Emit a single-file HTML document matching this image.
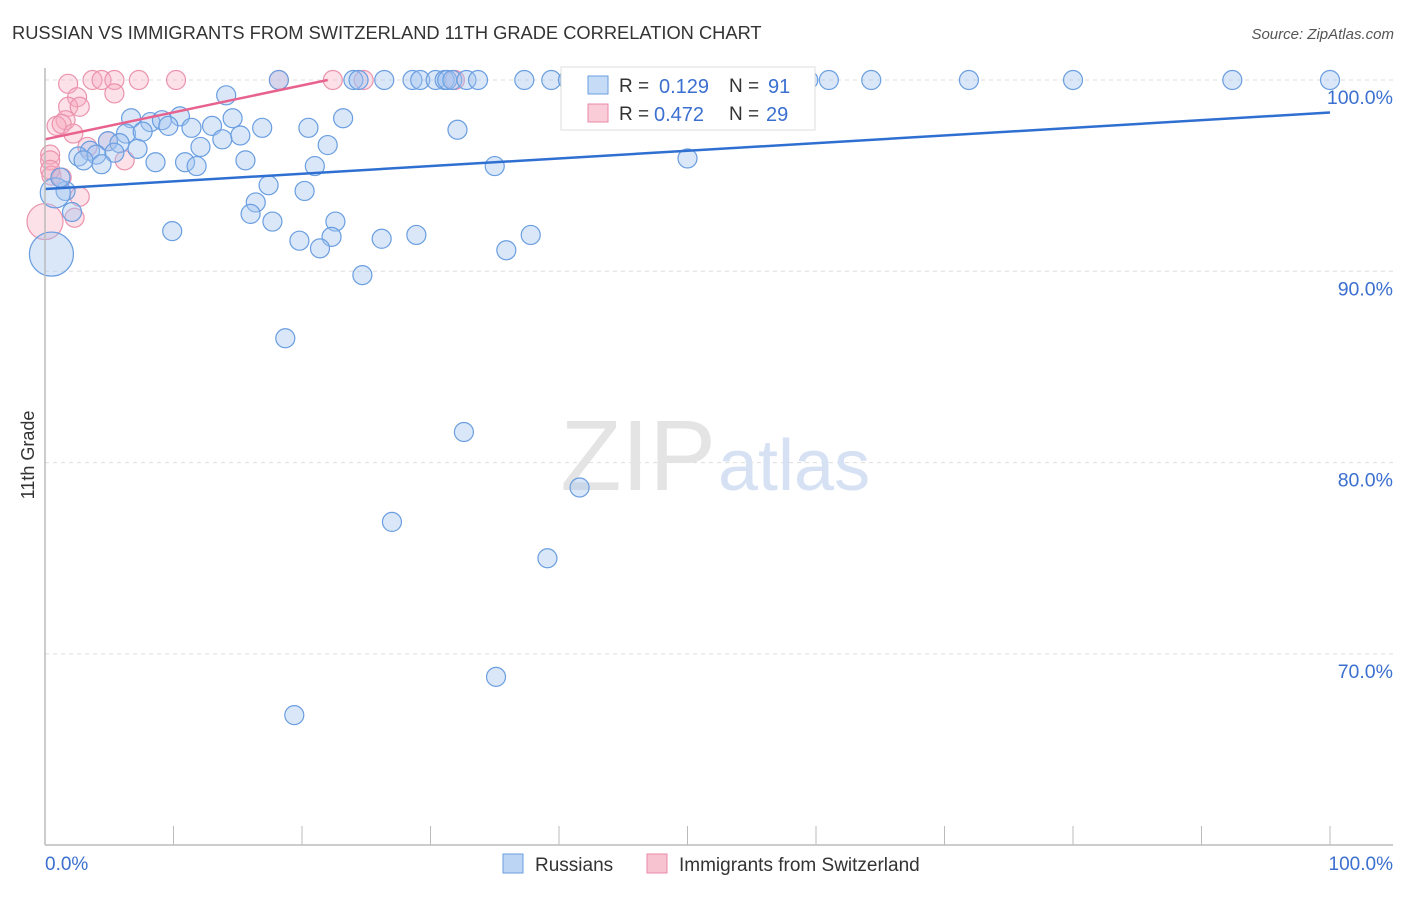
<!DOCTYPE html>
<html><head><meta charset="utf-8"><style>
body{margin:0;background:#fff;font-family:"Liberation Sans",sans-serif}
svg text{font-family:"Liberation Sans",sans-serif}
</style></head><body>
<svg width="1406" height="892" viewBox="0 0 1406 892">
<text x="12" y="39" font-size="18.3" fill="#333">RUSSIAN VS IMMIGRANTS FROM SWITZERLAND 11TH GRADE CORRELATION CHART</text>
<text x="1394" y="39" font-size="15" fill="#555" font-style="italic" text-anchor="end">Source: ZipAtlas.com</text>
<g id="grid"></g>
<text x="716" y="490" font-size="100" fill="#e4e4e4" text-anchor="end" font-family="Liberation Serif">ZIP</text>
<text x="718" y="490" font-size="72" fill="#d6e2f4">atlas</text>
<g id="pts"></g>
<g id="axes"></g>
<text transform="translate(34,455) rotate(-90)" font-size="18" fill="#333" text-anchor="middle">11th Grade</text>
<g>
<rect x="561" y="67" width="254" height="63" fill="#fff" stroke="#ddd"/>
<rect x="588" y="76" width="20" height="18" fill="rgba(160,195,240,0.6)" stroke="#6a9ee0"/>
<text x="619" y="92" font-size="19" fill="#333">R =</text>
<text x="659" y="93" font-size="20" fill="#3b6fd0">0.129</text>
<text x="729" y="92" font-size="19" fill="#333">N =</text>
<text x="768" y="93" font-size="20" fill="#3b6fd0">91</text>
<rect x="588" y="104" width="20" height="18" fill="rgba(245,170,190,0.6)" stroke="#e98aa8"/>
<text x="619" y="120" font-size="19" fill="#333">R =</text>
<text x="654" y="121" font-size="20" fill="#3b6fd0">0.472</text>
<text x="729" y="120" font-size="19" fill="#333">N =</text>
<text x="766" y="121" font-size="20" fill="#3b6fd0">29</text>
</g>
<g>
<rect x="503" y="854" width="20" height="19" fill="rgba(160,195,240,0.7)" stroke="#6a9ee0"/>
<text x="535" y="871" font-size="19" fill="#333">Russians</text>
<rect x="647" y="854" width="20" height="19" fill="rgba(245,170,190,0.7)" stroke="#e98aa8"/>
<text x="679" y="871" font-size="19" fill="#333">Immigrants from Switzerland</text>
</g>
</svg>
<script>
const yTicks=[100,90,80,70];
const yTickLabels=["100.0%","90.0%","80.0%","70.0%"];
const xTicks=[0,10,20,30,40,50,60,70,80,90,100];
const blueX=[18.2,24.0,24.4,26.4,28.6,29.2,30.4,31.1,31.3,31.7,32.8,33.7,37.3,39.4,40.7,47.2,52.5,54.5,59.4,61.0,64.3,71.9,80.0,92.4,100,
14.1,10.5,6.7,14.6,23.2,8.2,9.1,9.6,11.4,13.0,16.9,20.5,32.1,6.3,7.6,15.2,4.9,13.8,5.8,22.0,7.2,12.1,3.5,2.6,4.0,5.4,3.0,4.4,8.6,10.9,15.6,11.8,21.0,35.0,50.0,17.4,1.6,20.2,0.8,1.2,16.4,16.0,2.1,22.6,17.7,9.9,22.3,19.8,26.2,28.9,37.8,21.4,35.9,0.5,24.7,18.7,32.6,41.6,27.0,39.1,35.1,19.4];
const blueY=[100,100,100,100,100,100,100,100,100,100,100,100,100,100,100,100,100,100,100,100,100,100,100,100,100,
99.2,98.1,98.0,98.0,98.0,97.8,97.9,97.6,97.5,97.6,97.5,97.5,97.4,97.2,97.3,97.1,96.8,96.9,96.7,96.6,96.4,96.5,96.3,96.0,96.1,96.2,95.8,95.6,95.7,95.7,95.8,95.5,95.5,95.5,95.9,94.5,94.2,94.2,94.1,94.9,93.6,93.0,93.1,92.6,92.6,92.1,91.8,91.6,91.7,91.9,91.9,91.2,91.1,90.9,89.8,86.5,81.6,78.7,76.9,75.0,68.8,66.8];
const blueBig={63:15,78:22};
const pinkX=[1.8,3.7,4.4,5.4,7.3,10.2,18.2,22.4,24.8,31.9,2.5,5.4,1.8,2.7,1.6,0.9,1.3,2.2,3.3,4.9,0.4,0.4,6.2,0.5,1.3,2.7,2.3,0.0,0.4];
const pinkY=[99.8,100,100,100,100,100,100,100,100,100,99.1,99.3,98.6,98.6,97.9,97.6,97.7,97.2,96.5,96.8,96.1,95.8,95.8,95.0,94.9,93.9,92.8,92.6,95.3];
const pinkBig={27:18};
const blueTrend=[[0,94.3],[100,98.3]];
const pinkTrend=[[0,96.9],[22,100]];
const X=v=>45+v*12.85, Y=v=>80+(100-v)*19.13;
const NS="http://www.w3.org/2000/svg";
function mk(t,a,p){const e=document.createElementNS(NS,t);for(const k in a)e.setAttribute(k,a[k]);p.appendChild(e);return e;}
const grid=document.getElementById('grid'),axes=document.getElementById('axes'),pts=document.getElementById('pts');
yTicks.forEach((t,i)=>{
 const l=mk('line',{x1:45,x2:1393,y1:Y(t),y2:Y(t),stroke:'#ddd','stroke-dasharray':'4,4'},grid);
 
 
 const tx=mk('text',{x:1393,y:Y(t)+24,'font-size':19.5,fill:'#3b6fd0','text-anchor':'end'},axes);
 tx.textContent=yTickLabels[i];
 
 
});
const ax=mk('line',{x1:45,x2:1393,y1:845,y2:845,stroke:'#bbb','stroke-width':1.5},axes);


const ay=mk('line',{x1:45,x2:45,y1:68,y2:845,stroke:'#bbb','stroke-width':1.5},axes);


xTicks.forEach(t=>{
 const l=mk('line',{x1:X(t),x2:X(t),y1:826,y2:845,stroke:'#bbb'},axes);
 
 
});
[[0,'0.0%','start',45],[100,'100.0%','end',1393]].forEach(d=>{
 const tx=mk('text',{x:d[3],y:870,'font-size':19,fill:'#3b6fd0','text-anchor':d[2]},axes);
 tx.textContent=d[1];
 
 
});
pinkX.forEach((x,i)=>{
 const c=mk('circle',{cx:X(x),cy:Y(pinkY[i]),r:pinkBig[i]||9.5,fill:'rgba(245,170,190,0.35)',stroke:'#eb93ad','stroke-width':1.2},pts);
 
 
});
blueX.forEach((x,i)=>{
 const c=mk('circle',{cx:X(x),cy:Y(blueY[i]),r:blueBig[i]||9.5,fill:'rgba(160,195,240,0.4)',stroke:'#6a9ee0','stroke-width':1.2},pts);
 
 
});
const bl=mk('line',{x1:X(blueTrend[0][0]),y1:Y(blueTrend[0][1]),x2:X(blueTrend[1][0]),y2:Y(blueTrend[1][1]),stroke:'#2f6fd1','stroke-width':2.5},pts);


const pl=mk('line',{x1:X(pinkTrend[0][0]),y1:Y(pinkTrend[0][1]),x2:X(pinkTrend[1][0]),y2:Y(pinkTrend[1][1]),stroke:'#e8628e','stroke-width':2.5},pts);


</script>
</body></html>
